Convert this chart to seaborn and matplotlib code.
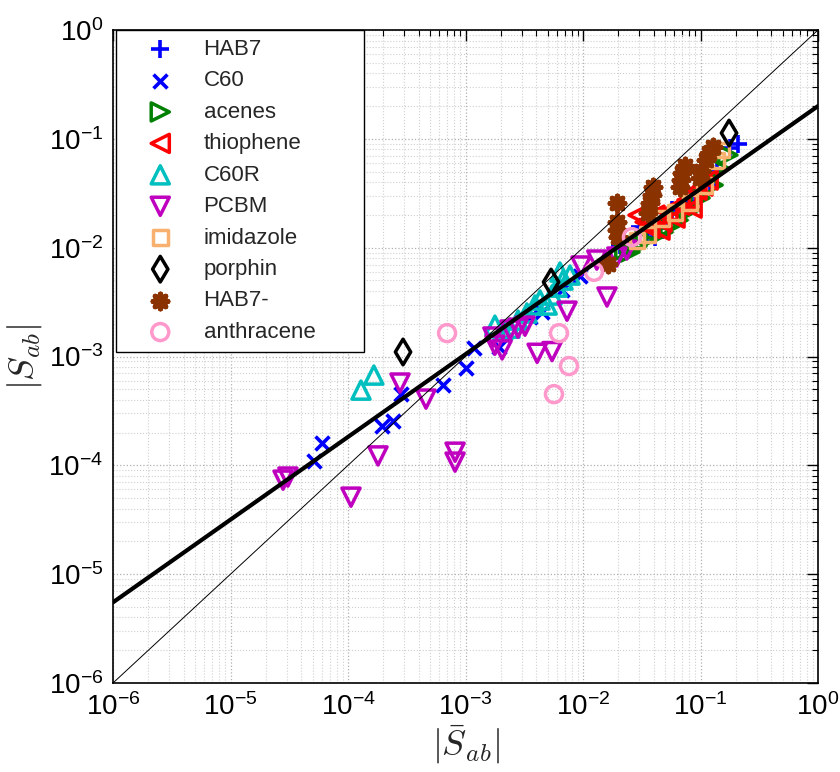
import numpy as np
import matplotlib
matplotlib.use("Agg")
import matplotlib.pyplot as plt
import seaborn as sns
from matplotlib.ticker import FixedLocator, FuncFormatter, NullFormatter

# ---------------- data ----------------
hab7_x = [0.0207, 0.0305, 0.0351, 0.0410, 0.0452, 0.0528, 0.0571, 0.0767, 0.0933, 0.120, 0.138, 0.178, 0.209]
hab7_y = [0.0106, 0.0155, 0.0136, 0.0125, 0.0151, 0.0172, 0.0222, 0.0268, 0.0292, 0.0376, 0.0516, 0.0823, 0.0896]

c60_x = [5.14e-5, 6.01e-5, 1.95e-4, 2.41e-4, 2.83e-4, 6.44e-4, 1.01e-3, 1.18e-3, 1.93e-3, 3.54e-3, 4.48e-3, 6.62e-3, 9.42e-3]
c60_y = [1.09e-4, 1.60e-4, 2.29e-4, 2.55e-4, 4.51e-4, 5.46e-4, 7.82e-4, 1.19e-3, 1.22e-3, 2.30e-3, 2.56e-3, 4.08e-3, 5.48e-3]

acenes_x = [0.0227, 0.0251, 0.0288, 0.0338, 0.0410, 0.0480, 0.0550, 0.0645, 0.0814, 0.0991, 0.128, 0.144, 0.171]
acenes_y = [0.00951, 0.00912, 0.01035, 0.0117, 0.0131, 0.0139, 0.0158, 0.0179, 0.0222, 0.0286, 0.0376, 0.0539, 0.0710]

thio_x = [0.0294, 0.0338, 0.0372, 0.0410, 0.0470, 0.0528, 0.0607, 0.0670, 0.0767, 0.0848, 0.0933, 0.105, 0.116, 0.0452]
thio_y = [0.0199, 0.0172, 0.0151, 0.0199, 0.0172, 0.0212, 0.0187, 0.0246, 0.0274, 0.0231, 0.0338, 0.0368, 0.0418, 0.0145]

c60r_x = [1.29e-4, 1.66e-4, 1.78e-3, 2.08e-3, 2.39e-3, 2.80e-3, 3.33e-3, 3.90e-3, 4.31e-3, 4.95e-3, 5.45e-3, 6.01e-3, 6.76e-3, 7.75e-3, 6.37e-3]
c60r_y = [4.91e-4, 6.75e-4, 1.94e-3, 1.75e-3, 1.82e-3, 2.16e-3, 2.51e-3, 2.97e-3, 3.30e-3, 2.97e-3, 3.67e-3, 4.34e-3, 5.04e-3, 5.60e-3, 5.97e-3]

pcbm_x = [2.80e-5, 3.08e-5, 1.06e-4, 1.80e-4, 2.77e-4, 4.61e-4, 8.15e-4, 8.15e-4, 1.71e-3, 1.78e-3, 2.05e-3,
          2.39e-3, 2.80e-3, 3.21e-3, 4.07e-3, 5.45e-3, 7.31e-3, 9.62e-3, 0.0131, 0.0160, 0.0194, 0.0236]
pcbm_y = [7.31e-5, 7.80e-5, 5.10e-5, 1.22e-4, 5.70e-4, 4.06e-4, 1.32e-4, 1.07e-4, 1.51e-3, 1.27e-3, 1.15e-3,
          1.75e-3, 1.82e-3, 1.90e-3, 1.07e-3, 1.11e-3, 2.61e-3, 6.78e-3, 7.69e-3, 3.52e-3, 8.20e-3, 9.51e-3]

imid_x = [0.0288, 0.0357, 0.0470, 0.0607, 0.0814, 0.109, 0.138, 0.152]
imid_y = [0.0117, 0.0131, 0.0187, 0.0212, 0.0262, 0.0376, 0.0638, 0.0789]

porph_x = [2.94e-4, 5.35e-3, 0.175]
porph_y = [1.10e-3, 4.83e-3, 0.113]

hab7m_x = [0.0163, 0.0194, 0.0194, 0.0194, 0.0199, 0.0357, 0.0372, 0.0386, 0.0394, 0.0670, 0.0682, 0.0697,
           0.0738, 0.0991, 0.101, 0.111, 0.118, 0.128]
hab7m_y = [0.00707, 0.0257, 0.0172, 0.0145, 0.0125, 0.0208, 0.0257, 0.0304, 0.0361, 0.0361, 0.0418, 0.0485,
           0.0562, 0.0436, 0.0506, 0.0638, 0.0740, 0.0841]

anth_x = [6.97e-4, 6.25e-3, 7.60e-3, 5.66e-3, 0.0124, 0.0261]
anth_y = [1.64e-3, 1.64e-3, 8.17e-4, 4.51e-4, 6.0e-3, 0.0125]

# fitted power law  y = a * x^b
fit_a, fit_b = 0.2, 0.76
line_x = [1e-6, 1.0]

# tick decades
decades = [-6, -5, -4, -3, -2, -1, 0]

# ---------------- style ----------------
sns.set_theme(style="white")
plt.rcParams['font.family'] = ['Liberation Sans', 'DejaVu Sans']
plt.rcParams['mathtext.fontset'] = 'cm'

fig = plt.figure(figsize=(8.4, 7.72), dpi=100)
ax = fig.add_axes([113/840, 89/772, 705/840, 653/772])
ax.set_xscale('log')
ax.set_yscale('log')

series = [
    ("HAB7", hab7_x, hab7_y, '+', '#0000FF', True, 170, 2.6),
    ("C60", c60_x, c60_y, 'x', '#0000FF', True, 100, 2.6),
    ("acenes", acenes_x, acenes_y, '>', '#008000', False, 170, 2.5),
    ("thiophene", thio_x, thio_y, '<', '#FF0000', False, 170, 2.5),
    ("C60R", c60r_x, c60r_y, '^', '#00BFBF', False, 170, 2.5),
    ("PCBM", pcbm_x, pcbm_y, 'v', '#BF00BF', False, 170, 2.5),
    ("imidazole", imid_x, imid_y, 's', '#F7B06E', False, 115, 2.5),
    ("porphin", porph_x, porph_y, 'd', '#000000', False, 170, 2.5),
    ("HAB7-", hab7m_x, hab7m_y, (8, 2, 0), '#8B3300', True, 110, 3.8),
    ("anthracene", anth_x, anth_y, 'o', '#FF99CC', False, 150, 2.5),
]

for name, xs, ys, mk, col, line_marker, size, lw in series:
    if line_marker:
        sns.scatterplot(x=xs, y=ys, ax=ax, marker=mk, color=col, s=size,
                        linewidth=lw, label=name, zorder=3)
    else:
        sns.scatterplot(x=xs, y=ys, ax=ax, marker=mk, s=size, facecolor='none',
                        edgecolor=col, linewidth=lw, label=name, zorder=3)

lx = np.array(line_x)
sns.lineplot(x=lx, y=lx, ax=ax, color='black', linewidth=0.7, zorder=4, legend=False)
sns.lineplot(x=lx, y=fit_a * lx ** fit_b, ax=ax, color='black', linewidth=3, zorder=4, legend=False)

ax.set_xlim(1e-6, 1)
ax.set_ylim(1e-6, 1)


def pow_fmt(v, pos):
    e = int(round(np.log10(v)))
    return r'$\mathregular{10^{%d}}$' % e


major_ticks = [10.0 ** d for d in decades]
minor_ticks = [m * 10.0 ** d for d in decades[:-1] for m in range(2, 10)]
for axis in (ax.xaxis, ax.yaxis):
    axis.set_major_locator(FixedLocator(major_ticks))
    axis.set_minor_locator(FixedLocator(minor_ticks))
    axis.set_major_formatter(FuncFormatter(pow_fmt))
    axis.set_minor_formatter(NullFormatter())

ax.tick_params(which='both', direction='in', top=True, right=True, colors='black')
ax.tick_params(which='major', length=8, width=1, labelsize=20, pad=7)
ax.tick_params(which='minor', length=4, width=0.8)
ax.grid(True, which='major', color='#b0b0b0', linestyle=':', linewidth=0.9)
ax.grid(True, which='minor', color='#d0d0d0', linestyle=':', linewidth=0.8)
for sp in ax.spines.values():
    sp.set_color('black')
    sp.set_linewidth(1.2)

ax.set_xlabel(r'$|\bar{S}_{ab}|$', fontsize=26, labelpad=2)
ax.set_ylabel(r'$|S_{ab}|$', fontsize=26, labelpad=3)

leg = ax.legend(loc='upper left', bbox_to_anchor=(0.004, 0.0, 0.352, 1.0), mode='expand',
                borderaxespad=0, fontsize=16, frameon=True, fancybox=False,
                edgecolor='black', framealpha=1, handlelength=3.2, handletextpad=0.35,
                labelspacing=0.47, borderpad=0.4)
leg.get_frame().set_linewidth(1.0)

fig.savefig("out.png", dpi=100)
